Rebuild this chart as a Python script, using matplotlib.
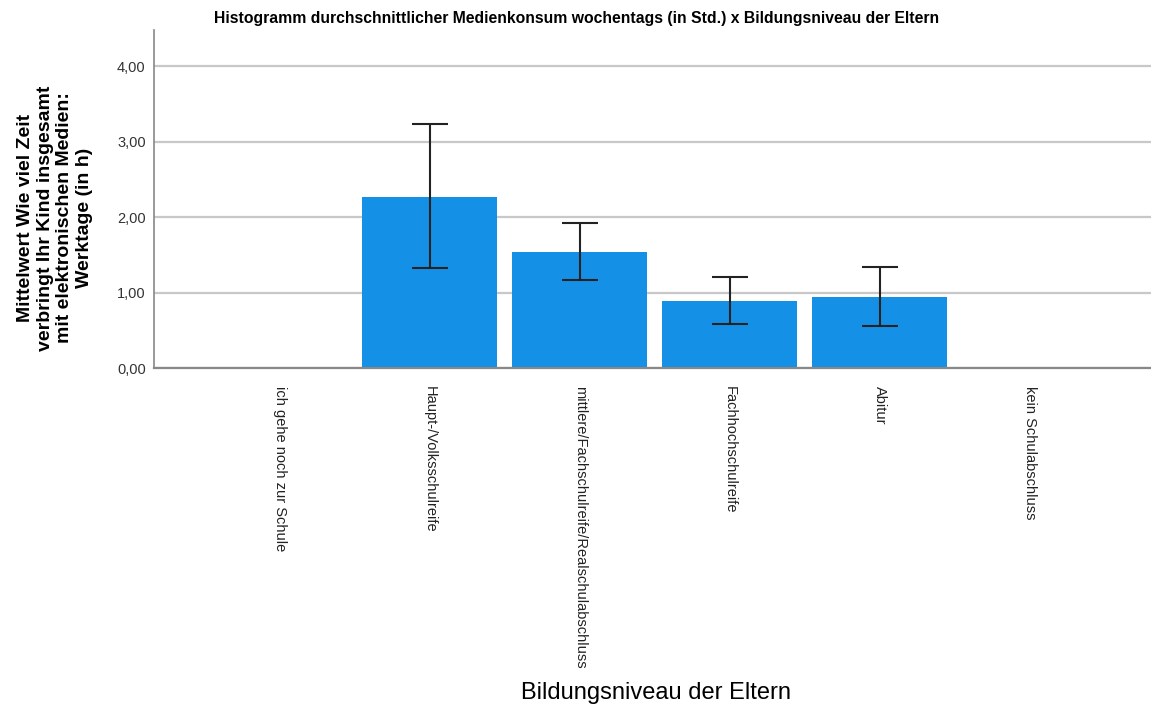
import numpy as np
import matplotlib.pyplot as plt

# Daten
kategorien = ["ich gehe noch zur Schule", "Haupt-/Volksschulreife",
              "mittlere/Fachschulreife/Realschulabschluss", "Fachhochschulreife",
              "Abitur", "kein Schulabschluss"]
mittelwert = [np.nan, 2.27, 1.54, 0.89, 0.94, np.nan]
ci_oben = [np.nan, 3.23, 1.92, 1.20, 1.34, np.nan]
ci_unten = [np.nan, 1.32, 1.17, 0.58, 0.56, np.nan]
y_ticks = [0, 1, 2, 3, 4]

plt.rcParams['font.family'] = ['Liberation Sans', 'DejaVu Sans']

fig = plt.figure(figsize=(11.51, 7.06), dpi=100)
ax = fig.add_axes([154/1151, 1 - 368/706, 1 - 154/1151, (368 - 30)/706])

x = np.arange(len(kategorien))
m = np.array(mittelwert)
hat = ~np.isnan(m)
ax.bar(x[hat], m[hat], width=0.9, color='#1490e6', zorder=2)
err = np.vstack([m - np.array(ci_unten), np.array(ci_oben) - m])
ax.errorbar(x[hat], m[hat], yerr=err[:, hat], fmt='none', ecolor='#222222',
            elinewidth=1.5, capsize=13, capthick=1.5, zorder=3)

ax.set_xlim(-0.84, 5.81)
ax.set_ylim(0, 4.48)
ax.set_yticks(y_ticks)
ax.set_yticklabels(["{:.2f}".format(v).replace('.', ',') for v in y_ticks], fontsize=10.5, color='#333333')
ax.set_xticks(x)
ax.set_xticklabels(kategorien, rotation=-90, fontsize=10.5, color='#222222', va='top', ha='center')
ax.tick_params(axis='both', length=0)
ax.tick_params(axis='x', pad=13)
ax.tick_params(axis='y', pad=6)
ax.grid(axis='y', color='#c8c8c8', linewidth=1.6, zorder=0)
ax.set_axisbelow(True)
for s in ['top', 'right']:
    ax.spines[s].set_visible(False)
ax.spines['left'].set_color('#888888')
ax.spines['bottom'].set_color('#888888')
ax.spines['left'].set_linewidth(1.2)
ax.spines['bottom'].set_linewidth(1.6)

fig.text(577/1151, 1 - 19/706, "Histogramm durchschnittlicher Medienkonsum wochentags (in Std.) x Bildungsniveau der Eltern",
         ha='center', va='center', fontsize=11.3, fontweight='bold')
fig.text(55/1151, 1 - 218/706, "Mittelwert Wie viel Zeit\nverbringt Ihr Kind insgesamt\nmit elektronischen Medien:\nWerktage (in h)",
         rotation=90, ha='center', va='center', multialignment='center',
         fontsize=14, fontweight='bold', linespacing=1.2)
fig.text(656/1151, 1 - 693/706, "Bildungsniveau der Eltern", ha='center', va='center', fontsize=17)

fig.savefig("out.png", dpi=100)
